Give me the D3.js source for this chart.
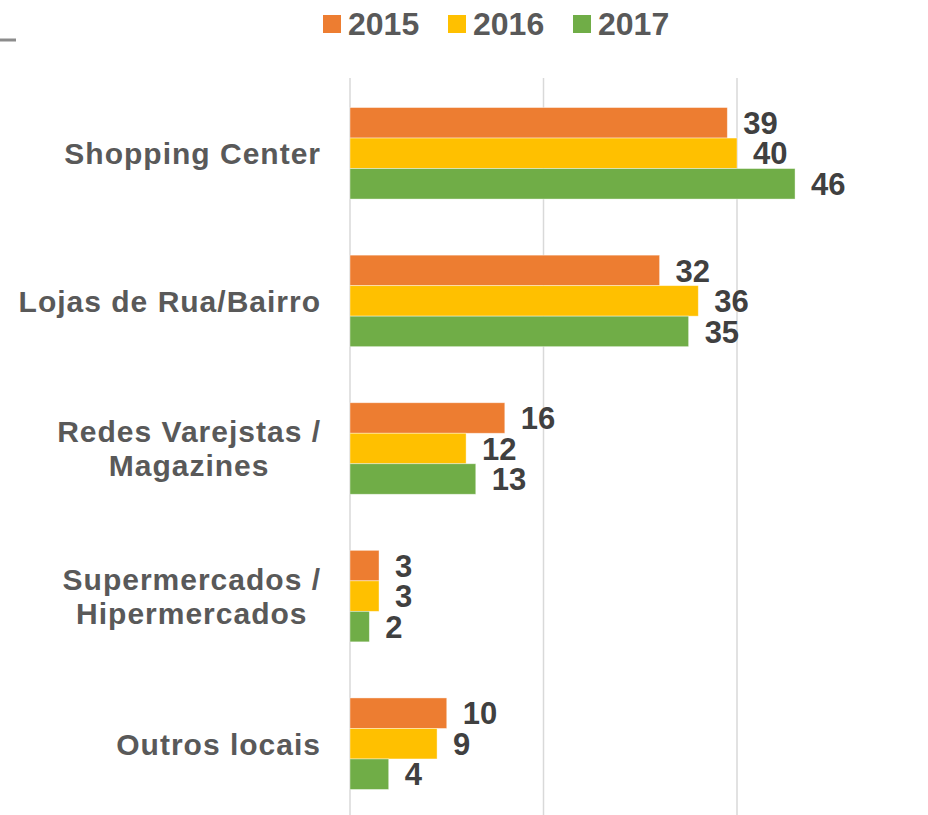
<!DOCTYPE html>
<html>
<head>
<meta charset="utf-8">
<script src="https://cdn.jsdelivr.net/npm/d3@7"></script>
<style>
  body { margin: 0; background: #fff; }
  text { font-family: "Liberation Sans", Arial, sans-serif; font-weight: bold; }
</style>
</head>
<body>
<svg width="928" height="815"></svg>
<script>
// data
const categories = ["Shopping Center", "Lojas de Rua/Bairro", "Redes Varejstas /\nMagazines", "Supermercados /\nHipermercados", "Outros locais"];
const years = ["2015", "2016", "2017"];
const values2015 = [39, 32, 16, 3, 10];
const values2016 = [40, 36, 12, 3, 9];
const values2017 = [46, 35, 13, 2, 4];
const gridTicks = [0, 20, 40];
const colors = ["#ED7D31", "#FFC000", "#70AD47"];

const series = [values2015, values2016, values2017];
const rows = categories.map((c, i) => ({ cat: c, vals: series.map(s => s[i]) }));

const svg = d3.select("svg");

const x = d3.scaleLinear().domain([0, 60]).range([350, 930.5]);
const y = d3.scaleBand().domain(categories).range([79.5, 817.5])
    .paddingInner(0.38).paddingOuter(0.19);
const y1 = d3.scaleBand().domain(years).range([0, y.bandwidth()]);

// gridlines
svg.selectAll(".grid")
    .data(gridTicks)
    .enter()
    .append("line")
    .attr("class", "grid")
    .attr("x1", d => x(d)).attr("x2", d => x(d))
    .attr("y1", 78).attr("y2", 815)
    .attr("stroke", "#d9d9d9")
    .attr("stroke-width", 1.5);

// little leftover line top-left
svg.append("line")
    .attr("x1", 0).attr("x2", 16).attr("y1", 40).attr("y2", 40)
    .attr("stroke", "#8c8c8c").attr("stroke-width", 3);

// bars
const groups = svg.selectAll(".grp")
    .data(rows)
    .enter()
    .append("g")
    .attr("class", "grp")
    .attr("transform", d => `translate(0,${y(d.cat)})`);

groups.selectAll("rect")
    .data(d => d.vals.map((v, j) => ({ v, year: years[j], j })))
    .enter()
    .append("rect")
    .attr("x", x(0))
    .attr("y", d => y1(d.year))
    .attr("width", d => x(d.v) - x(0))
    .attr("height", y1.bandwidth())
    .attr("fill", d => colors[d.j])
    .attr("stroke", "#ffffff")
    .attr("stroke-opacity", 0.5)
    .attr("stroke-width", 0.8);

groups.selectAll(".val")
    .data(d => d.vals.map((v, j) => ({ v, year: years[j], j })))
    .enter()
    .append("text")
    .attr("class", "val")
    .attr("x", d => x(d.v) + 16)
    .attr("y", d => y1(d.year) + y1.bandwidth() / 2)
    .attr("dy", "0.36em")
    .attr("fill", "#404040")
    .style("font-size", "31px")
    .text(d => d.v);

// category labels
const rightEdge = 321;
const lineH = 34;
svg.selectAll(".cat")
    .data(categories)
    .enter()
    .append("text")
    .attr("class", "cat")
    .attr("fill", "#595959")
    .style("font-size", "30px")
    .style("letter-spacing", "1px")
    .each(function(d) {
        const t = d3.select(this);
        const lines = d.split("\n");
        const cy = y(d) + y.bandwidth() / 2;
        lines.forEach((ln, k) => {
            t.append("tspan")
                .attr("y", cy + (k - (lines.length - 1) / 2) * lineH)
                .attr("dy", "0.36em")
                .text(ln);
        });
        let maxW = 0;
        t.selectAll("tspan").each(function() {
            maxW = Math.max(maxW, this.getComputedTextLength());
        });
        t.attr("text-anchor", "middle");
        t.selectAll("tspan").attr("x", rightEdge - maxW / 2);
    });

// legend
const legend = svg.selectAll(".leg")
    .data(years)
    .enter()
    .append("g")
    .attr("class", "leg")
    .attr("transform", (d, i) => `translate(${323 + i * 125},0)`);

legend.append("rect")
    .attr("x", 0).attr("y", 15)
    .attr("width", 18).attr("height", 18)
    .attr("fill", (d, i) => colors[i]);

legend.append("text")
    .attr("x", 25).attr("y", 35)
    .attr("fill", "#595959")
    .style("font-size", "32px")
    .text(d => d);
</script>
</body>
</html>
